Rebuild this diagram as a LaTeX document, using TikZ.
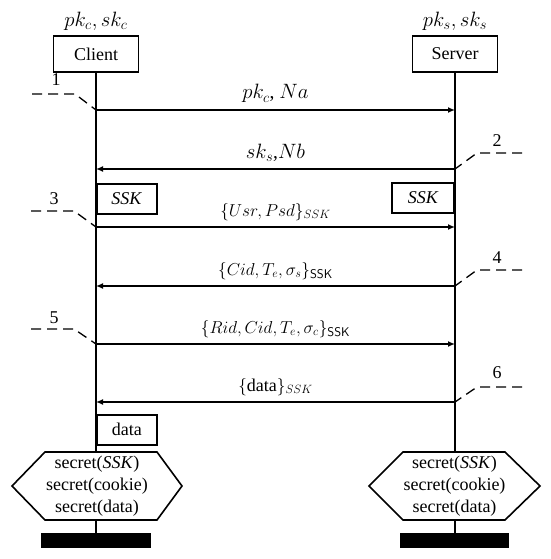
\documentclass[tikz,border=0pt]{standalone}
\usepackage{fontspec}
\setmainfont{Liberation Serif}
\newfontfamily\nodeserif{Liberation Serif}
\usetikzlibrary{arrows.meta}
\begin{document}
\begin{tikzpicture}[x=1pt,y=-1pt,
  every node/.style={font=\nodeserif\fontsize{18}{22}\selectfont, inner sep=0pt},
  actor/.style={draw, line width=1.6pt, minimum width=85pt, minimum height=36pt},
  keylabel/.style={font=\nodeserif\fontsize{21}{24}\selectfont},
  keybox/.style={draw, line width=1.6pt, minimum width=60pt, minimum height=30pt},
  life/.style={line width=1.8pt},
  msg/.style={line width=1.5pt, -{Latex[length=7pt,width=6pt]}},
  mlabel/.style={anchor=base, yshift=11pt},
  biglabel/.style={mlabel, font=\nodeserif\fontsize{19.5}{22}\selectfont},
  stepline/.style={line width=1.3pt, dash pattern=on 10pt off 6pt},
  hexa/.style={line width=1.6pt},
  endbar/.style={fill=black, minimum height=15pt, anchor=north}]
\useasboundingbox (0,0) rectangle (550,559);

% actors
\node[actor] (client) at (96,54) {Client};
\node[actor] (server) at (455,54) {Server};
\node[keylabel] (ckeys) at (96,21) {$pk_c,sk_c$};
\node[keylabel] (skeys) at (455,21) {$pk_s,sk_s$};

% message points
\coordinate (c1) at (96,110); \coordinate (s1) at (455,110);
\coordinate (c2) at (96,169); \coordinate (s2) at (455,169);
\coordinate (c3) at (96,227); \coordinate (s3) at (455,227);
\coordinate (c4) at (96,286); \coordinate (s4) at (455,286);
\coordinate (c5) at (96,344); \coordinate (s5) at (455,344);
\coordinate (c6) at (96,402); \coordinate (s6) at (455,402);

% key / data boxes
\node[keybox, anchor=north west] (cssk) at (96,183) {\textit{SSK}};
\node[keybox, anchor=north east, minimum width=62pt] (sssk) at (455,182) {\textit{SSK}};
\node[keybox, anchor=north west] (cdata) at (96,414) {data};

% hexagons
\coordinate (chtop) at (96,452); \coordinate (chbot) at (96,520);
\coordinate (shtop) at (455,452); \coordinate (shbot) at (455,520);
\draw[hexa] (12,486) -- (45,452) -- (157,452) -- (182,486) -- (157,520) -- (45,520) -- cycle;
\draw[hexa] (369,486) -- (403,452) -- (505,452) -- (540,486) -- (505,520) -- (403,520) -- cycle;
\node[align=center] (csec) at (97,486) {secret(\textit{SSK})\\secret(cookie)\\secret(data)};
\node[align=center] (ssec) at (454.5,486) {secret(\textit{SSK})\\secret(cookie)\\secret(data)};

% end bars
\node[endbar, minimum width=110pt] (cbar) at (96,533) {};
\node[endbar, minimum width=109pt] (sbar) at (454,533) {};

% lifelines
\draw[life] (client.south) -- (chtop);
\draw[life] (chbot) -- (cbar.north);
\draw[life] (server.south) -- (shtop);
\draw[life] (shbot) -- (shbot |- sbar.north);

% messages
\draw[msg] (c1) -- node[biglabel] {$pk_c$, $Na$} (s1);
\draw[msg] (s2) -- node[biglabel] {$sk_s$,$Nb$} (c2);
\draw[msg] (c3) -- node[mlabel] {$\{Usr, Psd\}_{SSK}$} (s3);
\draw[msg] (s4) -- node[mlabel] {$\{Cid, T_e, \sigma_s\}_{\mathsf{SSK}}$} (c4);
\draw[msg] (c5) -- node[mlabel] {$\{Rid, Cid, T_e, \sigma_c\}_{\mathsf{SSK}}$} (s5);
\draw[msg] (s6) -- node[mlabel] {$\{\mathrm{data}\}_{SSK}$} (c6);

% step markers
\node (n1) at (56,80) {1};
\node (n3) at (54,199) {3};
\node (n5) at (54,318) {5};
\node (n2) at (497,141) {2};
\node (n4) at (497,258) {4};
\node (n6) at (497,373) {6};
\coordinate (d1a) at (32,94);  \coordinate (d1b) at (75,94);
\coordinate (d3a) at (31,211); \coordinate (d3b) at (74,211);
\coordinate (d5a) at (31,329); \coordinate (d5b) at (74,329);
\coordinate (d2a) at (522,153); \coordinate (d2b) at (477,153);
\coordinate (d4a) at (522,270); \coordinate (d4b) at (477,270);
\coordinate (d6a) at (522,387); \coordinate (d6b) at (477,387);
\draw[stepline] (d1a) -- (d1b) -- (c1);
\draw[stepline] (d3a) -- (d3b) -- (c3);
\draw[stepline] (d5a) -- (d5b) -- (c5);
\draw[stepline] (d2a) -- (d2b) -- (s2);
\draw[stepline] (d4a) -- (d4b) -- (s4);
\draw[stepline] (d6a) -- (d6b) -- (s6);
\end{tikzpicture}
\end{document}
